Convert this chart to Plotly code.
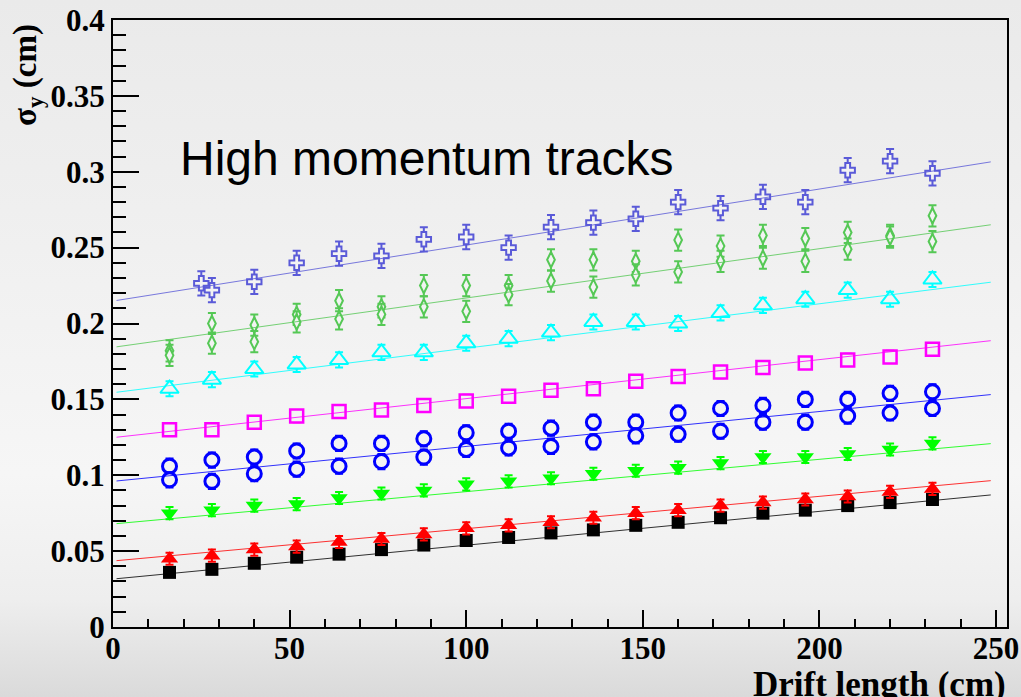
import base64
import plotly.graph_objects as go

# Drift positions (cm)
x_drift = [16, 28, 40, 52, 64, 76, 88, 100, 112, 124, 136, 148, 160, 172, 184, 196, 208, 220, 232]
x_cross = [25, 28, 40, 52, 64, 76, 88, 100, 112, 124, 136, 148, 160, 172, 184, 196, 208, 220, 232]

# sigma_y (cm) for each sample
sig_black = [0.036, 0.038, 0.042, 0.046, 0.048, 0.051, 0.054, 0.057, 0.059, 0.062, 0.064, 0.067, 0.069, 0.072, 0.075, 0.077, 0.080, 0.082, 0.084]
sig_red = [0.045, 0.047, 0.051, 0.053, 0.056, 0.058, 0.061, 0.065, 0.067, 0.069, 0.072, 0.075, 0.077, 0.080, 0.082, 0.084, 0.086, 0.089, 0.091]
sig_green = [0.075, 0.077, 0.080, 0.081, 0.085, 0.088, 0.090, 0.094, 0.096, 0.098, 0.101, 0.103, 0.105, 0.108, 0.112, 0.112, 0.114, 0.117, 0.121]
sig_blue_hi = [0.106, 0.110, 0.112, 0.116, 0.121, 0.121, 0.124, 0.128, 0.129, 0.131, 0.135, 0.135, 0.141, 0.144, 0.146, 0.150, 0.150, 0.154, 0.155]
sig_blue_lo = [0.097, 0.096, 0.101, 0.104, 0.106, 0.109, 0.112, 0.117, 0.118, 0.119, 0.122, 0.126, 0.127, 0.129, 0.135, 0.135, 0.139, 0.141, 0.144]
sig_magenta = [0.130, 0.130, 0.135, 0.139, 0.142, 0.143, 0.146, 0.149, 0.152, 0.156, 0.157, 0.162, 0.165, 0.168, 0.171, 0.174, 0.176, 0.178, 0.183]
sig_cyan = [0.157, 0.163, 0.170, 0.173, 0.176, 0.181, 0.181, 0.187, 0.190, 0.194, 0.201, 0.201, 0.200, 0.207, 0.212, 0.216, 0.222, 0.216, 0.229]
sig_diam_hi = [0.182, 0.200, 0.199, 0.206, 0.215, 0.211, 0.225, 0.225, 0.225, 0.242, 0.242, 0.241, 0.255, 0.251, 0.258, 0.256, 0.260, 0.258, 0.271]
sig_diam_lo = [0.179, 0.187, 0.188, 0.201, 0.203, 0.206, 0.211, 0.208, 0.219, 0.228, 0.224, 0.232, 0.234, 0.241, 0.243, 0.241, 0.249, 0.257, 0.254]
sig_cross = [0.2265, 0.222, 0.2275, 0.240, 0.246, 0.2445, 0.2555, 0.257, 0.250, 0.2635, 0.2665, 0.269, 0.280, 0.276, 0.2835, 0.280, 0.301, 0.307, 0.299]

# Uncertainties (cm)
err_black = 0.002
err_red = 0.004
err_green = 0.004
err_blue = 0.005
err_magenta = 0.004
err_cyan = 0.005
err_diam = 0.007
err_cross = 0.008

# Linear fits: intercept (cm) and slope (cm/cm), drawn over the fit range
fit_range = [1.0, 248.5]
fit_intercept = {"black": 0.0316, "red": 0.0435, "green": 0.0679, "blue": 0.0960,
                 "magenta": 0.1248, "cyan": 0.1544, "diam": 0.1843, "cross": 0.2148}
fit_slope = {"black": 0.000223, "red": 0.000213, "green": 0.000213, "blue": 0.000230,
             "magenta": 0.000257, "cyan": 0.000293, "diam": 0.000325, "cross": 0.000369}

colors = {"black": "#000000", "red": "#ff0000", "green": "#00ff00", "blue": "#0000ff",
          "magenta": "#ff00ff", "cyan": "#00ffff", "diam": "#55c855", "cross": "#5a5ad8"}
hollow = "#f3f3f3"

fig = go.Figure()


def add_points(x, y, err, key, symbol, size, filled, lw=2):
    c = colors[key]
    marker = dict(symbol=symbol, size=size,
                  color=c if filled else hollow,
                  line=dict(color=c, width=0 if filled else lw))
    fig.add_trace(go.Scatter(
        x=x, y=y, mode="markers", marker=marker, showlegend=False,
        error_y=dict(type="constant", value=err, color=c, thickness=2, width=4),
    ))


add_points(x_drift, sig_black, err_black, "black", "square", 13, True)
add_points(x_drift, sig_red, err_red, "red", "triangle-up", 15, True)
add_points(x_drift, sig_green, err_green, "green", "triangle-down", 15, True)
add_points(x_drift, sig_blue_hi, err_blue, "blue", "circle", 14, False, 3)
add_points(x_drift, sig_blue_lo, err_blue, "blue", "circle", 14, False, 3)
add_points(x_drift, sig_magenta, err_magenta, "magenta", "square", 13, False, 2.5)
add_points(x_drift, sig_cyan, err_cyan, "cyan", "triangle-up", 16, False, 2)
add_points(x_drift, sig_diam_hi, err_diam, "diam", "diamond-tall", 11, False, 2)
add_points(x_drift, sig_diam_lo, err_diam, "diam", "diamond-tall", 11, False, 2)
add_points(x_cross, sig_cross, err_cross, "cross", "cross", 12, False, 2)

# Fit lines drawn on top of the points
for key in ["black", "red", "green", "blue", "magenta", "cyan", "diam", "cross"]:
    a, b = fit_intercept[key], fit_slope[key]
    fig.add_trace(go.Scatter(
        x=fit_range, y=[a + b * xv for xv in fit_range], mode="lines",
        line=dict(color=colors[key], width=1), opacity=0.8, showlegend=False,
    ))

# Soft vertical gradient behind the whole canvas
W, H = 1021, 697
svg = (
    f'<svg xmlns="http://www.w3.org/2000/svg" width="{W}" height="{H}" preserveAspectRatio="none">'
    '<defs><linearGradient id="g" x1="0" y1="0" x2="0" y2="1">'
    '<stop offset="0" stop-color="#eaeaea"/>'
    '<stop offset="0.3" stop-color="#efefef"/>'
    '<stop offset="0.68" stop-color="#f6f6f6"/>'
    '<stop offset="0.86" stop-color="#eeeeee"/>'
    '<stop offset="1" stop-color="#dadada"/>'
    '</linearGradient></defs>'
    f'<rect width="{W}" height="{H}" fill="url(#g)"/></svg>'
)
bg_src = "data:image/svg+xml;base64," + base64.b64encode(svg.encode()).decode()

L, R, T, B = 113, 14, 20, 70
pw, ph = W - L - R, H - T - B

serif = "Liberation Serif, Times New Roman, serif"
tick_font = dict(family=serif, size=31, color="black", weight="bold")

fig.update_layout(
    width=W, height=H,
    margin=dict(l=L, r=R, t=T, b=B, pad=0),
    paper_bgcolor="#efefef",
    plot_bgcolor="rgba(0,0,0,0)",
    images=[dict(source=bg_src, xref="paper", yref="paper",
                 x=-L / pw, y=1 + T / ph, sizex=W / pw, sizey=H / ph,
                 xanchor="left", yanchor="top", sizing="stretch", layer="below")],
    xaxis=dict(range=[0, 253.1], showgrid=False, zeroline=False, automargin=False,
               showline=True, linecolor="black", linewidth=2, mirror=True,
               ticks="inside", ticklen=17, tickwidth=2, tickcolor="black",
               tick0=0, dtick=50, tickfont=tick_font, ticklabelstandoff=-7,
               minor=dict(ticks="inside", ticklen=8, tickwidth=2, tickcolor="black", dtick=10)),
    yaxis=dict(range=[0, 0.4], showgrid=False, zeroline=False, automargin=False,
               showline=True, linecolor="black", linewidth=2, mirror=True,
               ticks="inside", ticklen=26, tickwidth=2, tickcolor="black",
               tick0=0, dtick=0.05, tickfont=tick_font,
               minor=dict(ticks="inside", ticklen=13, tickwidth=2, tickcolor="black", dtick=0.01)),
    annotations=[
        dict(text="High momentum tracks", xref="paper", yref="paper",
             x=(178 - L) / pw, y=(H - B - 158) / ph, xanchor="left", yanchor="middle",
             showarrow=False, font=dict(family="Liberation Sans, Arial, sans-serif", size=48, color="black")),
        dict(text="Drift length (cm)", xref="paper", yref="paper",
             x=(1008 - L) / pw, y=(H - B - 684) / ph, xanchor="right", yanchor="middle",
             showarrow=False, font=dict(family=serif, size=35, color="black", weight="bold")),
        dict(text="σ<sub>y</sub> (cm)", xref="paper", yref="paper", textangle=-90,
             x=(27 - L) / pw, y=(H - B - 75) / ph, xanchor="center", yanchor="middle",
             showarrow=False, font=dict(family=serif, size=33, color="black", weight="bold")),
    ],
)

fig.write_html("out.html")
